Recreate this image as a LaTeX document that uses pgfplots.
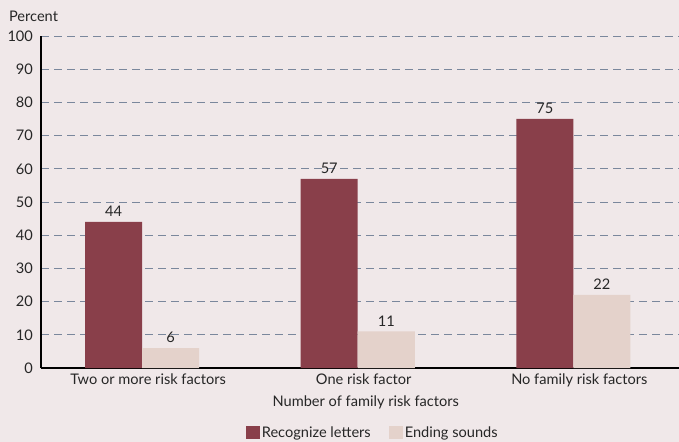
\documentclass[border=0pt]{standalone}
\usepackage{pgfplots}
\pgfplotsset{compat=1.18}
\usepackage{fontspec}
\setmainfont{Lato}
\definecolor{bg}{HTML}{F0E8E9}
\definecolor{barred}{HTML}{893F4A}
\definecolor{barlight}{HTML}{E4D2CB}
\definecolor{gridc}{HTML}{7A879C}
\newcommand{\fs}{\fontsize{14.6bp}{17bp}\selectfont}
\begin{document}
\fs
\begin{tikzpicture}
\useasboundingbox (0,0) rectangle (679bp,442bp);
\fill[bg] (0,0) rectangle (679bp,442bp);
\begin{axis}[
  at={(41bp,74bp)}, anchor=south west,
  scale only axis, width=638bp, height=332bp,
  ybar, bar width=0.2645,
  xmin=-0.469, xmax=2.49, ymin=0, ymax=100,
  ytick={0,10,...,100},
  xtick={0,1,2},
  xticklabels={Two or more risk factors, One risk factor, No family risk factors},
  axis x line*=bottom, axis y line*=left,
  axis line style={black, line width=1.1bp, -},
  major tick length=0pt,
  ymajorgrids, grid style={gridc, line width=0.9bp, dash pattern=on 8bp off 5bp},
  tick label style={font=\fs, text=black!85},
  /pgf/number format/assume math mode=true,
  xticklabel style={yshift=-1bp, xshift=6bp},
  yticklabel style={xshift=-3bp},
  xlabel={Number of family risk factors},
  xlabel style={at={(axis description cs:0.509,-0.105)}, anchor=center, font=\fs, text=black!85},
  ylabel={Percent}, ylabel style={rotate=-90, at={(axis description cs:-0.058,1.06)}, anchor=west, font=\fs, text=black!85},
  nodes near coords, every node near coord/.append style={font=\fs, text=black!85, yshift=0bp},
  legend style={at={(axis description cs:0.52,-0.196)}, anchor=center, draw=none, fill=none, legend columns=2, font=\fs, text=black!85, /tikz/every even column/.append style={column sep=16bp}},
  legend image code/.code={\fill[#1] (0bp,-6bp) rectangle (14bp,7bp);},
  clip=false,
]
\addplot[fill=barred, draw=none, bar shift=-0.13225] coordinates {(0,44) (1,57) (2,75)};
\addplot[fill=barlight, draw=none, bar shift=0.13225] coordinates {(0,6) (1,11) (2,22)};
\legend{Recognize letters, Ending sounds}
\end{axis}
\end{tikzpicture}
\end{document}
